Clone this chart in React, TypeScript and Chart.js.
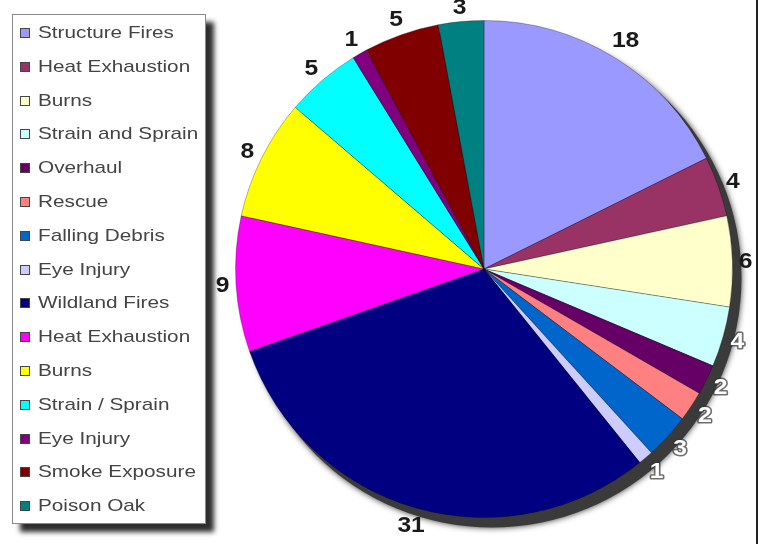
import React, { useEffect, useRef } from "react";
import { Chart, registerables } from "chart.js";

Chart.register(...registerables);

const categories = [
  "Structure Fires",
  "Heat Exhaustion",
  "Burns",
  "Strain and Sprain",
  "Overhaul",
  "Rescue",
  "Falling Debris",
  "Eye Injury",
  "Wildland Fires",
  "Heat Exhaustion",
  "Burns",
  "Strain / Sprain",
  "Eye Injury",
  "Smoke Exposure",
  "Poison Oak",
];
const values = [18, 4, 6, 4, 2, 2, 3, 1, 31, 9, 8, 5, 1, 5, 3];
const sliceColors = [
  "#9999FF",
  "#993366",
  "#FFFFCC",
  "#CCFFFF",
  "#660066",
  "#FF8080",
  "#0066CC",
  "#CCCCFF",
  "#000080",
  "#FF00FF",
  "#FFFF00",
  "#00FFFF",
  "#800080",
  "#800000",
  "#008080",
];
// labels that sit over the pie's drop shadow are drawn light
const lightLabel = [false, false, false, true, true, true, true, true, false, false, false, false, false, false, false];

const shadowPlugin = {
  id: "pieShadow",
  beforeDatasetsDraw(chart: any) {
    const meta = chart.getDatasetMeta(0);
    if (!meta.data.length) return;
    const p = meta.data[0].getProps(["x", "y", "outerRadius"], true);
    const ctx = chart.ctx;
    ctx.save();
    ctx.shadowColor = "rgba(0,0,0,0.8)";
    ctx.shadowBlur = 6;
    ctx.fillStyle = "#3a3a3a";
    ctx.beginPath();
    ctx.arc(p.x + 8, p.y + 9, p.outerRadius + 1, 0, Math.PI * 2);
    ctx.fill();
    ctx.restore();
  },
};

const valueLabelPlugin = {
  id: "valueLabels",
  afterDatasetsDraw(chart: any) {
    const meta = chart.getDatasetMeta(0);
    const ctx = chart.ctx;
    ctx.save();
    ctx.font = 'bold 22px "Liberation Sans", Arial, sans-serif';
    ctx.textAlign = "center";
    ctx.textBaseline = "middle";
    meta.data.forEach((arc: any, i: number) => {
      const p = arc.getProps(["x", "y", "startAngle", "endAngle", "outerRadius"], true);
      const mid = (p.startAngle + p.endAngle) / 2;
      const txt = String(values[i]);
      const hw = (ctx.measureText(txt).width * 1.12) / 2;
      const hh = 8.5;
      const r = p.outerRadius + 6 + Math.abs(Math.cos(mid)) * hw + Math.abs(Math.sin(mid)) * hh;
      const x = p.x + Math.cos(mid) * r;
      const y = p.y + Math.sin(mid) * r;
      ctx.save();
      ctx.translate(x, y);
      ctx.scale(1.12, 1);
      if (lightLabel[i]) {
        ctx.lineWidth = 3;
        ctx.lineJoin = "round";
        ctx.strokeStyle = "rgba(50,50,50,0.7)";
        ctx.strokeText(txt, 0, 1);
        ctx.fillStyle = "#ffffff";
      } else {
        ctx.fillStyle = "#1a1a1a";
      }
      ctx.fillText(txt, 0, 1);
      ctx.restore();
    });
    ctx.restore();
  },
};

export default function App() {
  const canvasRef = useRef<HTMLCanvasElement | null>(null);

  useEffect(() => {
    const canvas = canvasRef.current;
    if (!canvas) return;
    const chart = new Chart(canvas, {
      type: "pie",
      data: {
        labels: categories,
        datasets: [
          {
            data: values,
            backgroundColor: sliceColors,
            borderColor: "rgba(0,0,0,0.28)",
            borderWidth: 1,
          },
        ],
      },
      options: {
        animation: false,
        responsive: false,
        devicePixelRatio: 1,
        layout: { padding: { left: 235, right: 25, top: 20, bottom: 26 } },
        plugins: {
          legend: { display: false },
          tooltip: { enabled: false },
        },
      },
      plugins: [shadowPlugin, valueLabelPlugin],
    });
    return () => chart.destroy();
  }, []);

  return (
    <div
      style={{
        position: "absolute",
        left: 0,
        top: 0,
        width: 758,
        height: 544,
        background: "#ffffff",
        overflow: "hidden",
      }}
    >
      <canvas
        ref={canvasRef}
        width={758}
        height={544}
        style={{ position: "absolute", left: 0, top: 0, width: 758, height: 544 }}
      />
      <div
        style={{
          position: "absolute",
          left: 12,
          top: 14,
          width: 192,
          height: 508,
          border: "1px solid #8a8a8a",
          background: "#ffffff",
          boxShadow: "8px 8px 5px #2e2e2e",
        }}
      />
      {categories.map((c, i) => {
        const cy = 33 + i * 33.8;
        return (
          <div key={i}>
            <div
              style={{
                position: "absolute",
                left: 20,
                top: cy - 5,
                width: 8,
                height: 8,
                border: "1px solid #444",
                background: sliceColors[i],
              }}
            />
            <div
              style={{
                position: "absolute",
                left: 38,
                top: cy - 11,
                height: 22,
                lineHeight: "22px",
                fontFamily: '"Liberation Sans", Arial, sans-serif',
                fontSize: 17,
                color: "#444444",
                whiteSpace: "nowrap",
                transform: "scaleX(1.22)",
                transformOrigin: "left center",
              }}
            >
              {c}
            </div>
          </div>
        );
      })}
      <div
        style={{
          position: "absolute",
          left: 756,
          top: 0,
          width: 2,
          height: 544,
          background: "#222",
        }}
      />
    </div>
  );
}
